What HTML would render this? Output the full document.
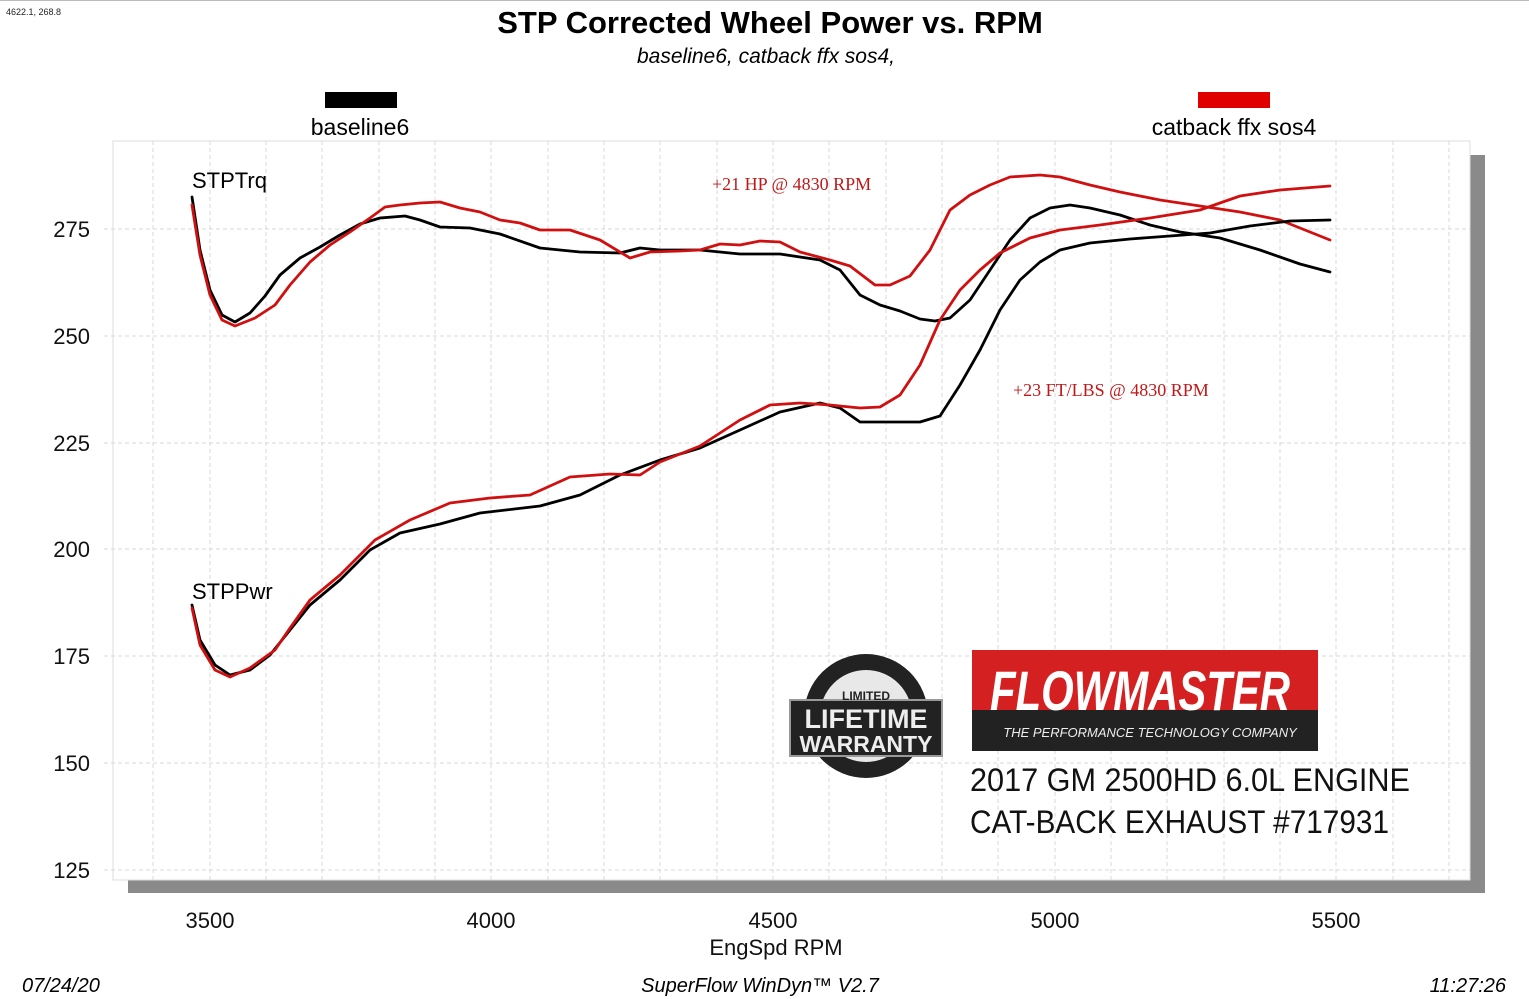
<!DOCTYPE html>
<html><head><meta charset="utf-8"><style>
body{margin:0;background:#fff;}
svg{display:block;font-family:"Liberation Sans",sans-serif;}
</style></head><body>
<svg width="1529" height="999" viewBox="0 0 1529 999" xmlns="http://www.w3.org/2000/svg">
<rect x="0" y="0" width="1529" height="999" fill="#fff"/>
<line x1="0" y1="0.5" x2="1529" y2="0.5" stroke="#bbb"/>
<text x="6" y="15" font-size="9" fill="#222">4622.1, 268.8</text>
<text x="770" y="33" font-size="31" font-weight="bold" text-anchor="middle">STP Corrected Wheel Power vs. RPM</text>
<text x="766" y="63" font-size="21" font-style="italic" text-anchor="middle">baseline6, catback ffx sos4,</text>
<rect x="325" y="92" width="72" height="16" fill="#000"/>
<text x="360" y="135" font-size="23" text-anchor="middle">baseline6</text>
<rect x="1198" y="92" width="72" height="16" fill="#e00000"/>
<text x="1234" y="135" font-size="23" text-anchor="middle">catback ffx sos4</text>
<rect x="128" y="880" width="1357" height="13" fill="#8a8a8a"/>
<rect x="1470" y="155" width="15" height="738" fill="#8a8a8a"/>
<rect x="113" y="141" width="1357" height="739" fill="#fff" stroke="#ddd"/>
<g stroke="#d8d8d8" stroke-dasharray="4,3" stroke-width="1">
<line x1="153" y1="141" x2="153" y2="880"/><line x1="210" y1="141" x2="210" y2="880"/><line x1="266" y1="141" x2="266" y2="880"/><line x1="322" y1="141" x2="322" y2="880"/><line x1="379" y1="141" x2="379" y2="880"/><line x1="435" y1="141" x2="435" y2="880"/><line x1="491" y1="141" x2="491" y2="880"/><line x1="548" y1="141" x2="548" y2="880"/><line x1="604" y1="141" x2="604" y2="880"/><line x1="660" y1="141" x2="660" y2="880"/><line x1="717" y1="141" x2="717" y2="880"/><line x1="773" y1="141" x2="773" y2="880"/><line x1="829" y1="141" x2="829" y2="880"/><line x1="886" y1="141" x2="886" y2="880"/><line x1="942" y1="141" x2="942" y2="880"/><line x1="998" y1="141" x2="998" y2="880"/><line x1="1055" y1="141" x2="1055" y2="880"/><line x1="1111" y1="141" x2="1111" y2="880"/><line x1="1167" y1="141" x2="1167" y2="880"/><line x1="1224" y1="141" x2="1224" y2="880"/><line x1="1280" y1="141" x2="1280" y2="880"/><line x1="1336" y1="141" x2="1336" y2="880"/><line x1="1393" y1="141" x2="1393" y2="880"/><line x1="1449" y1="141" x2="1449" y2="880"/>
<line x1="104" y1="229" x2="1470" y2="229"/><line x1="104" y1="336" x2="1470" y2="336"/><line x1="104" y1="443" x2="1470" y2="443"/><line x1="104" y1="549" x2="1470" y2="549"/><line x1="104" y1="656" x2="1470" y2="656"/><line x1="104" y1="763" x2="1470" y2="763"/><line x1="104" y1="870" x2="1470" y2="870"/>
</g>
<g font-size="22" text-anchor="end" fill="#111">
<text x="90" y="237">275</text><text x="90" y="344">250</text><text x="90" y="451">225</text><text x="90" y="557">200</text><text x="90" y="664">175</text><text x="90" y="771">150</text><text x="90" y="878">125</text>
</g>
<g font-size="22" text-anchor="middle" fill="#111">
<text x="210" y="928">3500</text><text x="491" y="928">4000</text><text x="773" y="928">4500</text><text x="1055" y="928">5000</text><text x="1336" y="928">5500</text>
<text x="776" y="955">EngSpd  RPM</text>
</g>
<text x="22" y="992" font-size="20" font-style="italic">07/24/20</text>
<text x="760" y="992" font-size="20" font-style="italic" text-anchor="middle">SuperFlow WinDyn™  V2.7</text>
<text x="1506" y="992" font-size="20" font-style="italic" text-anchor="end">11:27:26</text>
<text x="192" y="188" font-size="22">STPTrq</text>
<text x="192" y="599" font-size="22">STPPwr</text>
<text x="712" y="190" font-size="18" fill="#c01818" font-family="Liberation Serif,serif">+21 HP @ 4830 RPM</text>
<text x="1013" y="396" font-size="18" fill="#c01818" font-family="Liberation Serif,serif">+23 FT/LBS @ 4830 RPM</text>
<g fill="none" stroke-width="2.8" stroke-linejoin="round" stroke-linecap="round">
<polyline stroke="#000" points="192,197 200,250 210,290 222,315 235,322 250,313 265,296 280,275 300,258 320,247 340,235 360,224 380,218 405,216 420,220 440,227 470,228 500,234 540,248 580,252 620,253 640,248 660,250 700,250 740,254 780,254 820,260 840,270 860,295 880,305 900,311 920,319 935,321 950,318 970,300 990,270 1010,240 1030,218 1050,208 1070,205 1090,208 1120,215 1150,225 1180,232 1220,238 1260,250 1300,264 1330,272"/>
<polyline stroke="#d01010" points="192,205 200,255 210,295 222,320 235,326 255,318 275,305 290,285 310,262 330,245 350,232 370,218 385,207 400,205 420,203 440,202 460,208 480,212 500,220 520,223 540,230 570,230 600,240 630,258 650,252 680,251 700,250 720,244 740,245 760,241 780,242 800,252 830,260 850,266 875,285 890,285 910,276 930,250 950,210 970,195 990,185 1010,177 1040,175 1060,177 1090,185 1120,192 1160,200 1200,206 1240,212 1280,220 1330,240"/>
<polyline stroke="#000" points="192,605 200,640 215,665 230,675 250,670 270,655 290,630 310,605 340,580 370,550 400,533 440,524 480,513 540,506 580,495 620,475 660,460 700,448 740,430 780,412 820,403 840,408 860,422 880,422 920,422 940,416 960,385 980,350 1000,310 1020,280 1040,262 1060,250 1090,243 1130,239 1170,236 1210,233 1250,226 1290,221 1330,220"/>
<polyline stroke="#d01010" points="192,608 200,645 215,670 230,677 250,668 275,650 290,628 310,600 340,575 375,540 410,520 450,503 490,498 530,495 570,477 610,474 640,475 660,462 700,446 740,420 770,405 800,403 830,405 860,408 880,407 900,395 920,365 940,320 960,290 980,270 1000,253 1030,238 1060,230 1100,225 1150,218 1200,210 1240,196 1280,190 1330,186"/>
</g>
<circle cx="866" cy="716" r="62" fill="#222"/>
<circle cx="866" cy="716" r="46" fill="#e8e8e8"/>
<rect x="790" y="700" width="152" height="56" fill="#222" stroke="#999" stroke-width="2"/>
<text x="866" y="700" font-size="12" font-weight="bold" text-anchor="middle" fill="#222">LIMITED</text>
<text x="866" y="728" font-size="27" font-weight="bold" text-anchor="middle" fill="#eee">LIFETIME</text>
<text x="866" y="752" font-size="23" font-weight="bold" text-anchor="middle" fill="#eee">WARRANTY</text>
<rect x="972" y="650" width="346" height="101" fill="#222"/>
<rect x="972" y="650" width="346" height="60" fill="#d42020"/>
<text x="1140" y="710" font-size="56" font-weight="bold" font-style="italic" text-anchor="middle" fill="#fff" textLength="300" lengthAdjust="spacingAndGlyphs">FLOWMASTER</text>
<text x="1150" y="737" font-size="13" font-style="italic" text-anchor="middle" fill="#eee">THE PERFORMANCE TECHNOLOGY COMPANY</text>
<text x="970" y="791" font-size="32" fill="#111" textLength="440" lengthAdjust="spacingAndGlyphs">2017 GM 2500HD 6.0L ENGINE</text>
<text x="970" y="833" font-size="32" fill="#111" textLength="419" lengthAdjust="spacingAndGlyphs">CAT-BACK EXHAUST #717931</text>
</svg>
</body></html>
